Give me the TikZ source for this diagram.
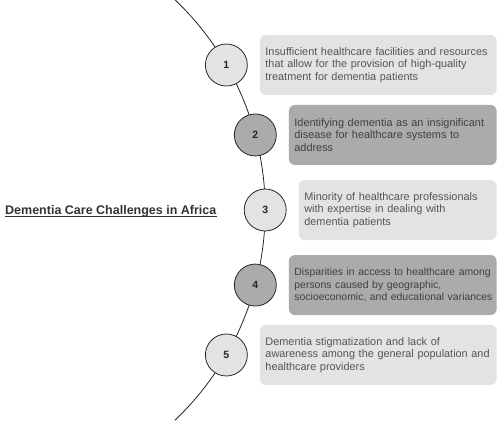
\documentclass[tikz,border=0pt]{standalone}
\usepackage{fontspec}
\setmainfont{Liberation Sans}
\usetikzlibrary{positioning}
\definecolor{boxlt}{HTML}{E3E3E3}
\definecolor{boxdk}{HTML}{ABABAB}
\definecolor{txtgray}{HTML}{555555}
\tikzset{
  spine/.style={line width=0.8pt,black!85},
  numc/.style={circle,draw=black!85,line width=0.8pt,minimum size=42pt,inner sep=0pt,
    font=\fontsize{10.5}{12}\selectfont\bfseries,text=black!85},
  infobox/.style={rounded corners=6pt,inner xsep=5.5pt,inner ysep=0pt,minimum height=60pt,
    align=left,font=\fontsize{10.9}{12.2}\selectfont,text=txtgray},
  ttl/.style={font=\fontsize{12.5}{14}\selectfont\bfseries,text=black!80,inner sep=0pt},
}
\begin{document}
\begin{tikzpicture}[x=1pt,y=1pt]
  \useasboundingbox (0,0) rectangle (500,421);
  \coordinate (o) at (-24.8,211);
  % the spine the items hang on
  \draw[spine] ([shift={(-46.5:290)}]o) arc[start angle=-46.5,end angle=46.5,radius=290];
  \node[ttl,anchor=base west] (title) at (5,207) {Dementia Care Challenges in Africa};
  \draw[line width=1.1pt,black!80] ([yshift=-2.6pt]title.base west) -- ([yshift=-2.6pt]title.base east);
  \foreach \i/\ang/\fc in {1/30/boxlt,2/15/boxdk,3/0/boxlt,4/-15/boxdk,5/-30/boxlt}{
    \node[numc,fill=\fc] (c\i) at ([shift={(\ang:290)}]o) {\i};
  }
  \node[infobox,fill=boxlt,text width=225.7pt,right=12pt of c1] (b1)
    {\mbox{Insufficient healthcare facilities and resources}\\that allow for the provision of high-quality\\treatment for dementia patients};
  \node[infobox,fill=boxdk,text=black!75,text width=196.7pt,right=12pt of c2] (b2)
    {Identifying dementia as an insignificant\\disease for healthcare systems to\\address};
  \node[infobox,fill=boxlt,text width=186.8pt,right=12pt of c3] (b3)
    {Minority of healthcare professionals\\with expertise in dealing with\\dementia patients};
  \node[infobox,fill=boxdk,text=black!75,text width=196.7pt,font=\fontsize{10.45}{12.2}\selectfont,
    right=12pt of c4] (b4)
    {\mbox{Disparities in access to healthcare among}\\persons caused by geographic,\\\mbox{socioeconomic, and educational variances}};
  \node[infobox,fill=boxlt,text width=225.7pt,right=12pt of c5] (b5)
    {\mbox{Dementia stigmatization and lack of}\\\mbox{awareness among the general population and}\\healthcare providers};
\end{tikzpicture}
\end{document}
